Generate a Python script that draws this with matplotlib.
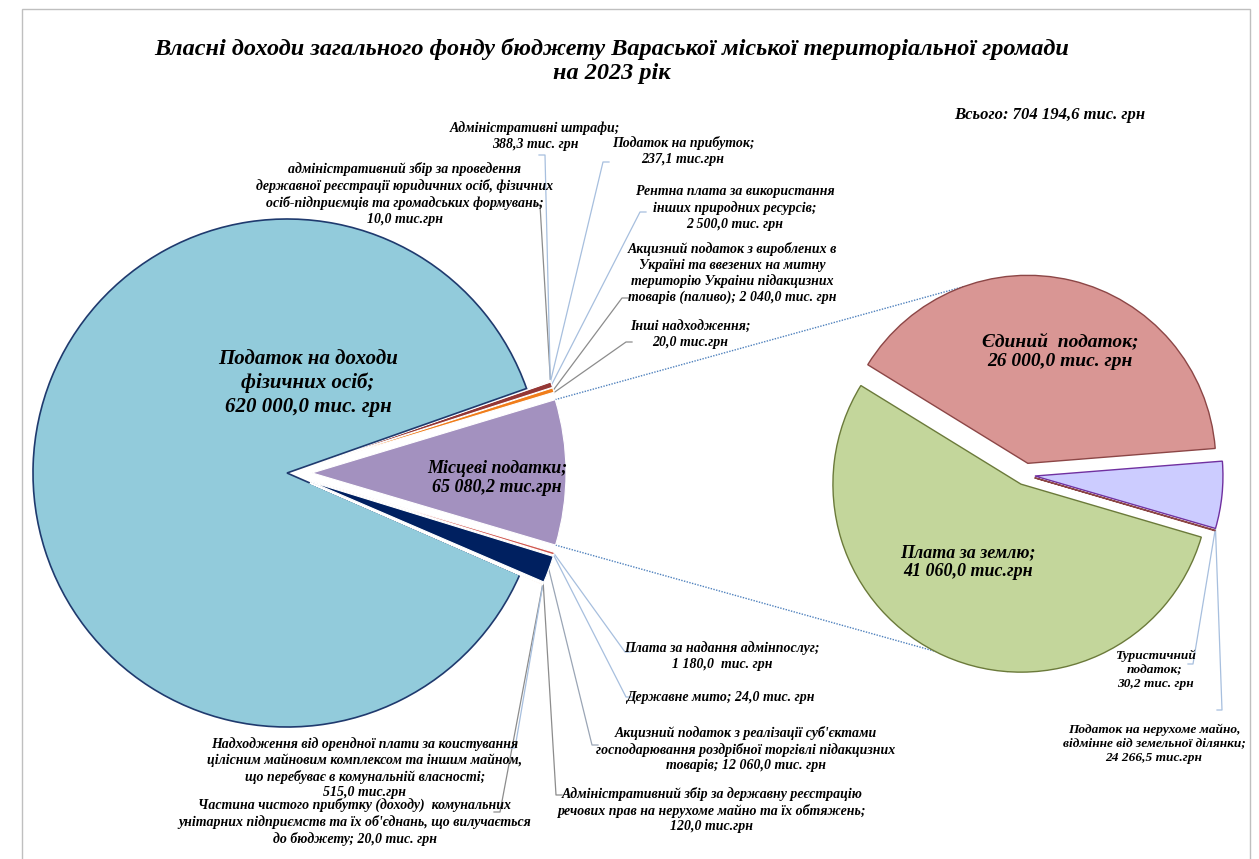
import numpy as np
import matplotlib.pyplot as plt
from matplotlib.patches import Rectangle

plt.rcParams['font.family'] = ['Liberation Serif', 'DejaVu Serif']

title = "Власні доходи загального фонду бюджету Вараської міської територіальної громади\nна 2023 рік"
total_text = "Всього: 704 194,6 тис. грн"

# main pie, counterclockwise starting from "Місцеві податки"
main_values = [65080.2, 20.0, 2040.0, 2500.0, 237.1, 10.0, 388.3,
               620000.0, 20.0, 515.0, 120.0, 12060.0, 24.0, 1180.0]
main_text = [
    "Місцеві податки;\n65 080,2 тис.грн",
    "Інші надходження;\n20,0 тис.грн",
    "Акцизний податок з вироблених в\nУкраїні та ввезених на митну\nтериторію Украіни підакцизних\nтоварів (паливо); 2 040,0 тис. грн",
    "Рентна плата за використання\nінших природних ресурсів;\n2 500,0 тис. грн",
    "Податок на прибуток;\n237,1 тис.грн",
    "адміністративний збір за проведення\nдержавної реєстрації юридичних осіб, фізичних\nосіб-підприємців та громадських формувань;\n10,0 тис.грн",
    "Адміністративні штрафи;\n388,3 тис. грн",
    "Податок на доходи\nфізичних осіб;\n620 000,0 тис. грн",
    "Частина чистого прибутку (доходу)  комунальних\nунітарних підприємств та їх об'єднань, що вилучається\nдо бюджету; 20,0 тис. грн",
    "Надходження від орендної плати за коистування\nцілісним майновим комплексом та іншим майном,\nщо перебуває в комунальній власності;\n515,0 тис.грн",
    "Адміністративний збір за державну реєстрацію\nречових прав на нерухоме майно та їх обтяжень;\n120,0 тис.грн",
    "Акцизний податок з реалізації суб'єктами\nгосподарювання роздрібної торгівлі підакцизних\nтоварів; 12 060,0 тис. грн",
    "Державне мито; 24,0 тис. грн",
    "Плата за надання адмінпослуг;\n1 180,0  тис. грн",
]
main_colors = ['#A391BF', '#7F7F7F', '#F07D1A', '#953735', '#4F81BD', '#9BBB59',
               '#7F3F4F', '#92CBDB', '#C0504D', '#E46C0A', '#8064A2', '#002060',
               '#4BACC6', '#D0574F']

# second pie (breakdown of "Місцеві податки"), sizes as drawn in the picture
local_shares = [3750.0, 26000.0, 35300.0, 30.2]
local_text = [
    "Податок на нерухоме майно,\nвідмінне від земельної ділянки;\n24 266,5 тис.грн",
    "Єдиний  податок;\n26 000,0 тис. грн",
    "Плата за землю;\n41 060,0 тис.грн",
    "Туристичний\nподаток;\n30,2 тис. грн",
]
local_colors = ['#CCCCFF', '#D99694', '#C3D69B', '#F2DCDB']
local_edges = ['#7030A0', '#8C4646', '#6B7A3A', '#8C4646']

H = 859
fig = plt.figure(figsize=(12.59, 8.59), dpi=100)
ax = fig.add_axes([0, 0, 1, 1])

big = main_values.index(max(main_values))
explode1 = [0 if i == big else 25 for i in range(len(main_values))]
w1, _ = ax.pie(main_values, colors=main_colors, startangle=-16.5, explode=explode1,
               center=(287, H - 473), radius=254, frame=True,
               wedgeprops=dict(linewidth=0.8, edgecolor='white'))
w1[big].set_edgecolor('#1F3A6E')
w1[big].set_linewidth(1.2)

w2, _ = ax.pie(local_shares, colors=local_colors, startangle=-16.2, explode=[10, 12, 10, 10],
               center=(1025, H - 475), radius=188, frame=True,
               wedgeprops=dict(linewidth=1.0))
for w, ec in zip(w2, local_edges):
    w.set_edgecolor(ec)


def edge_point(w, ang):
    a = np.deg2rad(ang)
    return w.center[0] + w.r * np.cos(a), w.center[1] + w.r * np.sin(a)


# connector lines between the pies
p = w1[0]
for ang, w, ang2 in [(p.theta2, w2[1], 110), (p.theta1, w2[2], 266)]:
    x0, y0 = edge_point(p, ang)
    x1, y1 = edge_point(w, ang2)
    ax.plot([x0, x1], [y0, y1], ls=(0, (1, 1)), color='#4F81BD', lw=1.0, zorder=0)

# label positions (image pixels, y from top) and leader ends
lab_pos = {
    1: (690, 335), 2: (732, 273), 3: (735, 208), 4: (683, 151), 5: (405, 194),
    6: (535, 136), 8: (355, 822), 9: (365, 768), 10: (712, 810), 11: (746, 749),
    12: (720, 697), 13: (722, 656),
}
lead_end = {
    1: (626, 342), 2: (622, 298), 3: (640, 212), 4: (603, 162), 5: (540, 205),
    6: (545, 155), 8: (500, 812), 9: (515, 748), 10: (556, 795), 11: (592, 745),
    12: (626, 697), 13: (625, 652),
}
lead_col = {1: '#8C8C8C', 2: '#8C8C8C', 3: '#A7BFDE', 4: '#A7BFDE', 5: '#8C8C8C',
            6: '#A7BFDE', 8: '#8C8C8C', 9: '#A7BFDE', 10: '#8C8C8C', 11: '#9AA5B5',
            12: '#A7BFDE', 13: '#A7BFDE'}

for i, (lx, ly) in lab_pos.items():
    w = w1[i]
    sx, sy = edge_point(w, (w.theta1 + w.theta2) / 2)
    ex, ey = lead_end[i]
    tick = 6 if ex > sx else -6
    ax.plot([sx, ex, ex + tick], [sy, H - ey, H - ey], color=lead_col[i], lw=0.9, zorder=0)
    ax.text(lx, H - ly, main_text[i], ha='center', va='center', fontsize=10,
            fontweight='bold', fontstyle='italic', linespacing=1.25)

# second pie small labels
for i, (lx, ly), (ex, ey) in [(3, (1155, 670), (1193, 664)), (0, (1154, 744), (1222, 710))]:
    w = w2[i]
    sx, sy = edge_point(w, w.theta1 if i == 0 else (w.theta1 + w.theta2) / 2)
    ax.plot([sx, ex, ex - 5], [sy, H - ey, H - ey], color='#A7BFDE', lw=0.9, zorder=0)
    ax.text(lx, H - ly, local_text[i], ha='center', va='center', fontsize=9.6,
            fontweight='bold', fontstyle='italic', linespacing=1.25)

# labels inside slices
ax.text(308, H - 383, main_text[big], ha='center', va='center', fontsize=15,
        fontweight='bold', fontstyle='italic', linespacing=1.25)
ax.text(497, H - 478, main_text[0], ha='center', va='center', fontsize=13,
        fontweight='bold', fontstyle='italic', linespacing=1.15)
ax.text(1060, H - 352, local_text[1], ha='center', va='center', fontsize=14,
        fontweight='bold', fontstyle='italic', linespacing=1.2)
ax.text(968, H - 562, local_text[2], ha='center', va='center', fontsize=13,
        fontweight='bold', fontstyle='italic', linespacing=1.15)

ax.text(612, H - 61, title, ha='center', va='center', fontsize=17.5,
        fontweight='bold', fontstyle='italic', linespacing=1.25)
ax.text(1145, H - 115, total_text, ha='right', va='center', fontsize=12,
        fontweight='bold', fontstyle='italic')

ax.set_xlim(0, 1259)
ax.set_ylim(0, H)
ax.set_aspect('equal')
ax.axis('off')

fig.patches.append(Rectangle((22 / 1259, -0.01), 1228 / 1259, 1.0, transform=fig.transFigure,
                             fill=False, edgecolor='#BFBFBF', lw=1.0))

fig.savefig('out.png', dpi=100)
